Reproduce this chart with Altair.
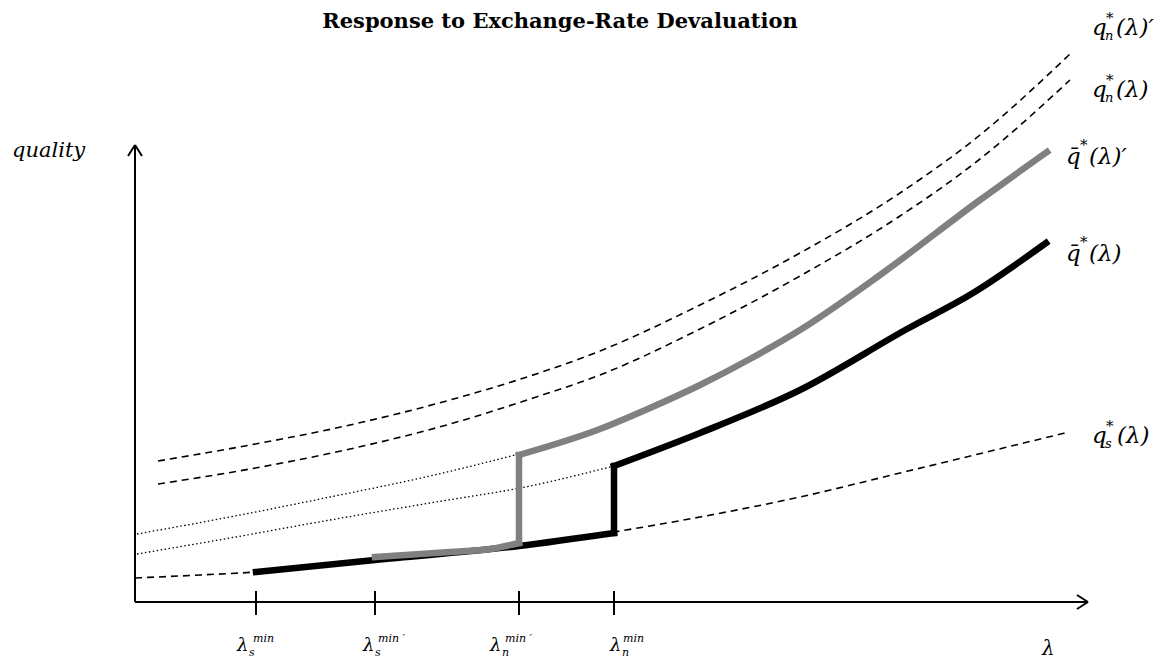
import altair as alt
import pandas as pd

# ---- curve data (lambda position, quality position) ----
qn2_x = [158, 250, 350, 450, 530, 600, 700, 800, 900, 980, 1070]
qn2_y = [461, 445, 425, 400, 376, 351, 305, 253, 193, 135, 54]

qn_x = [158, 250, 350, 450, 530, 600, 700, 800, 900, 980, 1070]
qn_y = [484, 469, 449, 424, 399, 375, 329, 276, 216, 159, 80]

dot2_x = [137, 230, 330, 430, 519]
dot2_y = [534, 517, 497, 476, 454]

dot1_x = [137, 230, 330, 430, 530, 614]
dot1_y = [554, 538, 520, 503, 486, 466]

qs_x = [135, 200, 256, 375, 519, 614, 700, 800, 900, 1065]
qs_y = [578, 575, 572, 560, 546, 532, 517, 497, 473, 433]

# black q-bar: low branch, jump, high branch
qbar_lo_x = [256, 375, 519, 614]
qbar_lo_y = [572, 560, 546, 533]
qbar_jump_x = [614, 614]
qbar_jump_y = [533, 466]
qbar_hi_x = [614, 700, 800, 907, 973, 1046]
qbar_hi_y = [466, 433, 390, 329, 293, 243]

# grey q-bar': low branch, jump, high branch
qbar2_lo_x = [375, 450, 490, 519]
qbar2_lo_y = [557, 552, 549, 543]
qbar2_jump_x = [519, 519]
qbar2_jump_y = [543, 455]
qbar2_hi_x = [519, 600, 650, 700, 750, 800, 880, 980, 1047]
qbar2_hi_y = [455, 429, 408, 385, 359, 330, 275, 200, 152]

# ---- axes ----
origin = (135, 602)
x_end = 1088
y_end = 145
tick_pos = [256, 375, 519, 614]

# ---- text ----
title_text = "Response to Exchange-Rate Devaluation"

XS = alt.Scale(domain=[8, 1164], nice=False, zero=False)
YS = alt.Scale(domain=[661, 8], nice=False, zero=False)


def line_df(xs, ys):
    return pd.DataFrame({"x": xs, "y": ys, "i": list(range(len(xs)))})


def line(xs, ys, color, width, dash=None, interp="linear", cap="butt"):
    kw = dict(color=color, strokeWidth=width, interpolate=interp,
              strokeJoin="miter", strokeCap=cap)
    if dash is not None:
        kw["strokeDash"] = dash
    return alt.Chart(line_df(xs, ys)).mark_line(**kw).encode(
        x=alt.X("x:Q", scale=XS, axis=None),
        y=alt.Y("y:Q", scale=YS, axis=None),
        order="i:Q",
    )


# axis segments
seg = pd.DataFrame({
    "x": [origin[0], origin[0], x_end, x_end, origin[0], origin[0]] + tick_pos,
    "y": [origin[1], origin[1], origin[1], origin[1], y_end, y_end] + [591] * 4,
    "x2": [x_end, origin[0], x_end - 11, x_end - 11, origin[0] - 7, origin[0] + 7] + tick_pos,
    "y2": [origin[1], y_end, origin[1] - 7, origin[1] + 7, y_end + 11, y_end + 11] + [615] * 4,
})
axes = alt.Chart(seg).mark_rule(color="black", strokeWidth=2).encode(
    x=alt.X("x:Q", scale=XS, axis=None),
    y=alt.Y("y:Q", scale=YS, axis=None),
    x2="x2:Q",
    y2="y2:Q",
)

# math label pieces: text, x, baseline y, font size
m_text = ["q", "n", "*", "(λ)′",
          "q", "n", "*", "(λ)",
          "q\u0304", "*", "(λ)′",
          "q\u0304", "*", "(λ)",
          "q", "s", "*", "(λ)",
          "λ", "s", "min",
          "λ", "s", "min ′",
          "λ", "n", "min ′",
          "λ", "n", "min",
          "λ"]
m_x = [1092, 1105, 1106, 1116,
       1092, 1105, 1106, 1116,
       1066, 1080, 1089,
       1066, 1080, 1089,
       1092, 1105, 1106, 1117,
       237, 249, 253,
       363, 375, 378,
       490, 502, 505,
       610, 622, 623,
       1042]
m_y = [35, 40, 23, 35,
       97, 102, 85, 97,
       164, 150, 164,
       261, 247, 261,
       443, 448, 431, 443,
       651, 656, 642,
       651, 656, 642,
       651, 656, 642,
       651, 656, 642,
       655]
m_size = [23, 13, 15, 23,
          23, 13, 15, 23,
          23, 15, 23,
          23, 15, 23,
          23, 13, 15, 23,
          18, 11, 11,
          18, 11, 11,
          18, 11, 11,
          18, 11, 11,
          20]

mdf = pd.DataFrame({"t": m_text, "x": m_x, "y": m_y, "s": m_size})
math_text = alt.Chart(mdf).mark_text(
    align="left", baseline="alphabetic", font="DejaVu Serif", fontStyle="italic", color="black"
).encode(
    x=alt.X("x:Q", scale=XS, axis=None),
    y=alt.Y("y:Q", scale=YS, axis=None),
    text="t:N",
    size=alt.Size("s:Q", scale=None, legend=None),
)

ydf = pd.DataFrame({"t": ["quality"], "x": [12], "y": [157]})
ylab = alt.Chart(ydf).mark_text(
    align="left", baseline="alphabetic", font="DejaVu Serif", fontStyle="italic", fontSize=21, color="black"
).encode(
    x=alt.X("x:Q", scale=XS, axis=None),
    y=alt.Y("y:Q", scale=YS, axis=None),
    text="t:N",
)

tdf = pd.DataFrame({"t": [title_text], "x": [560], "y": [28]})
title = alt.Chart(tdf).mark_text(
    align="center", baseline="alphabetic", font="DejaVu Serif", fontWeight="bold", fontSize=21, color="black"
).encode(
    x=alt.X("x:Q", scale=XS, axis=None),
    y=alt.Y("y:Q", scale=YS, axis=None),
    text="t:N",
)

chart = alt.layer(
    line(qn2_x, qn2_y, "black", 1.6, [7, 5], "monotone"),
    line(qn_x, qn_y, "black", 1.6, [7, 5], "monotone"),
    line(dot2_x, dot2_y, "black", 1.3, [1.5, 2.5], "monotone"),
    line(dot1_x, dot1_y, "black", 1.3, [1.5, 2.5], "monotone"),
    line(qs_x, qs_y, "black", 1.6, [7, 5], "monotone"),
    line(qbar_lo_x, qbar_lo_y, "black", 6.5, interp="monotone", cap="square"),
    line(qbar_jump_x, qbar_jump_y, "black", 6.5, cap="square"),
    line(qbar_hi_x, qbar_hi_y, "black", 6.5, interp="monotone", cap="square"),
    line(qbar2_lo_x, qbar2_lo_y, "#808080", 6.5, interp="monotone", cap="square"),
    line(qbar2_jump_x, qbar2_jump_y, "#808080", 6.5, cap="square"),
    line(qbar2_hi_x, qbar2_hi_y, "#808080", 6.5, interp="monotone", cap="square"),
    axes,
    math_text,
    ylab,
    title,
).properties(
    width=1156, height=653, padding=0,
    autosize=alt.AutoSizeParams(type="none"),
    background="white",
).configure_view(stroke=None)

chart.save("out.html", embed_options={"renderer": "svg", "actions": False})
